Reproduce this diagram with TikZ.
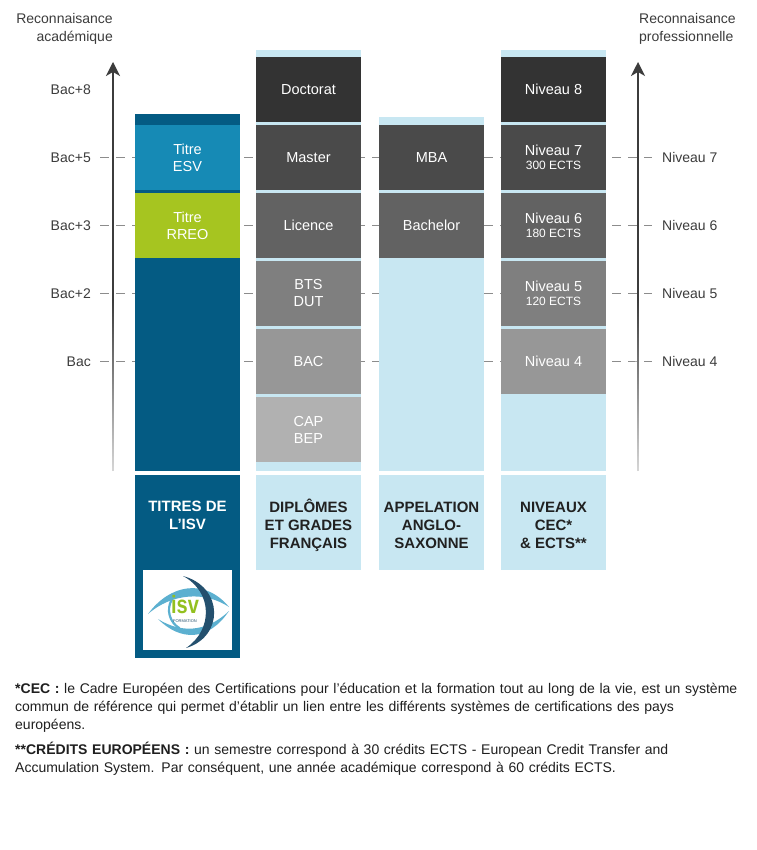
\documentclass[tikz,border=0pt]{standalone}
\usepackage{fontspec}
\setmainfont{Liberation Sans}
\usepackage{tikz}
\usetikzlibrary{positioning,arrows.meta,fadings}

\definecolor{isvdark}{HTML}{045B83}
\definecolor{isvblue}{HTML}{168AB5}
\definecolor{isvgreen}{HTML}{A6C520}
\definecolor{paleblue}{HTML}{C8E7F2}
\definecolor{greyA}{HTML}{333333}
\definecolor{greyB}{HTML}{4A4A4A}
\definecolor{greyC}{HTML}{626262}
\definecolor{greyD}{HTML}{7F7F7F}
\definecolor{greyE}{HTML}{979797}
\definecolor{greyF}{HTML}{B1B1B1}
\definecolor{labelgrey}{HTML}{3C3C3C}
\definecolor{eyeblue}{HTML}{5CB0D0}
\definecolor{eyenavy}{HTML}{24506E}
\definecolor{logogreen}{HTML}{93C01F}

\begin{document}
\begin{tikzpicture}[x=1pt, y=-1pt,
  block/.style={rectangle, minimum width=105pt, minimum height=65pt, inner sep=0pt, text=white, align=center, font=\fontsize{14.5}{17}\selectfont},
  header/.style={inner sep=0pt, text=black!87, align=center, font=\bfseries\fontsize{15}{18}\selectfont},
  lbl/.style={inner sep=0pt, text=labelgrey, font=\fontsize{14}{18}\selectfont},
  guide/.style={draw=black!45, line width=0.8pt, dash pattern=on 9pt off 7pt},
  axis/.style={draw=labelgrey, line width=1.4pt, -{Stealth[length=14pt,width=14pt,inset=4pt]}},
  axisfade/.style={fill=white, opacity=0.8, path fading=north}]
  \useasboundingbox[fill=white] (0,0) rectangle (756,850);

  % axes and levels
  \node (acadtitle) [lbl, anchor=east, align=right] at (113,29) {Reconnaisance\\acad\'emique};
  \node (protitle) [lbl, anchor=west, align=left] at (639,29) {Reconnaisance\\professionnelle};
  \node (bac0) [lbl, anchor=east] at (91,89.5) {Bac+8};
  \foreach \y/\bac/\niv [count=\i] in {157.5/Bac+5/Niveau 7, 225.5/Bac+3/Niveau 6, 293.5/Bac+2/Niveau 5, 361.5/Bac/Niveau 4} {
    \node (bac\i) [lbl, anchor=east] at (91,\y) {\bac};
    \node (niv\i) [lbl, anchor=west] at (662,\y) {\niv};
    \draw[guide] ([xshift=9pt]bac\i.east) -- ([xshift=-10pt]niv\i.west);
  }
  \coordinate (acadfoot) at (113,471);
  \coordinate (acadtip) at (113,62);
  \coordinate (profoot) at (638,471);
  \coordinate (protip) at (638,62);
  \draw[axis] (acadfoot) -- (acadtip);
  \draw[axis] (profoot) -- (protip);
  \path[axisfade] (110,300) rectangle (116,472);
  \path[axisfade] (635,300) rectangle (641,472);

  % column backgrounds
  \fill[isvdark] (135,114) rectangle (240,471);
  \fill[paleblue] (256,50) rectangle (361,471);
  \fill[paleblue] (379,117) rectangle (484,471);
  \fill[paleblue] (501,50) rectangle (606,471);
  \fill[isvdark] (135,475) rectangle (240,658);
  \fill[paleblue] (256,475) rectangle (361,570);
  \fill[paleblue] (379,475) rectangle (484,570);
  \fill[paleblue] (501,475) rectangle (606,570);

  % titres de l'ISV
  \node (esv) [block, fill=isvblue] at (187.5,157.5) {Titre\\ESV};
  \node (rreo) [block, fill=isvgreen] at (187.5,225.5) {Titre\\RREO};

  % diplomes francais
  \node (doctorat) [block, fill=greyA] at (308.5,89.5) {Doctorat};
  \node (master) [block, fill=greyB] at (308.5,157.5) {Master};
  \node (licence) [block, fill=greyC] at (308.5,225.5) {Licence};
  \node (bts) [block, fill=greyD] at (308.5,293.5) {BTS\\DUT};
  \node (bacdip) [block, fill=greyE] at (308.5,361.5) {BAC};
  \node (cap) [block, fill=greyF] at (308.5,429.5) {CAP\\BEP};

  % appelation anglo-saxonne
  \node (mba) [block, fill=greyB] at (431.5,157.5) {MBA};
  \node (bachelor) [block, fill=greyC] at (431.5,225.5) {Bachelor};

  % niveaux CEC
  \node (cec8) [block, fill=greyA] at (553.5,89.5) {Niveau 8};
  \node (cec7) [block, fill=greyB] at (553.5,157.5) {Niveau 7\\[-3pt]{\fontsize{12}{14}\selectfont 300 ECTS}};
  \node (cec6) [block, fill=greyC] at (553.5,225.5) {Niveau 6\\[-3pt]{\fontsize{12}{14}\selectfont 180 ECTS}};
  \node (cec5) [block, fill=greyD] at (553.5,293.5) {Niveau 5\\[-3pt]{\fontsize{12}{14}\selectfont 120 ECTS}};
  \node (cec4) [block, fill=greyE] at (553.5,361.5) {Niveau 4};

  % headers
  \node (hisv) [header, text=white] at (187.5,515.5) {TITRES DE\\L’ISV};
  \node (hdip) [header] at (308.5,525.5) {DIPLÔMES\\ET GRADES\\FRANÇAIS};
  \node (hanglo) [header] at (431.5,525.5) {APPELATION\\ANGLO-\\SAXONNE};
  \node (hcec) [header] at (553.5,525.5) {NIVEAUX\\CEC*\\\& ECTS**};

  % logo
  \node (logo) [rectangle, fill=white, minimum width=89pt, minimum height=80pt, inner sep=0pt] at (187.5,610) {};
  \fill[eyeblue] (148,614) .. controls (170,584) and (205,578) .. (229,607) .. controls (205,591) and (172,593) .. (148,614);
  \fill[eyeblue] (158,619) .. controls (180,641) and (208,642) .. (229,611) .. controls (206,633) and (180,633) .. (158,619);
  \draw[eyeblue, line width=2.2pt] (190,610) ++(120:21) arc (120:245:21);
  \fill[eyenavy] (183,576) .. controls (224,587) and (224,637) .. (186,648) .. controls (213,630) and (213,592) .. (183,576);
  \node (isvword) [inner sep=0pt, text=logogreen, yscale=1.25, font=\bfseries\fontsize{20}{20}\selectfont] at (185,605) {isv};
  \node (isvform) [inner sep=0pt, text=eyenavy, font=\fontsize{4}{4}\selectfont] at (185,621) {FORMATION};

  % notes
  \node (notes) [anchor=north west, inner sep=0pt, text width=740pt, align=left, text=black!88, font=\fontsize{14}{18}\selectfont] at (15,683) {%
    {\bfseries *CEC :} le Cadre Européen des Certifications pour l’éducation et la formation tout au long de la vie, est un système\newline
    commun de référence qui permet d’établir un lien entre les différents systèmes de certifications des pays\newline
    européens.\par\vspace{7pt}
    {\bfseries **CRÉDITS EUROPÉENS :} un semestre correspond à 30 crédits ECTS - European Credit Transfer and\newline
    Accumulation System. Par conséquent, une année académique correspond à 60 crédits ECTS.\par};
\end{tikzpicture}
\end{document}
